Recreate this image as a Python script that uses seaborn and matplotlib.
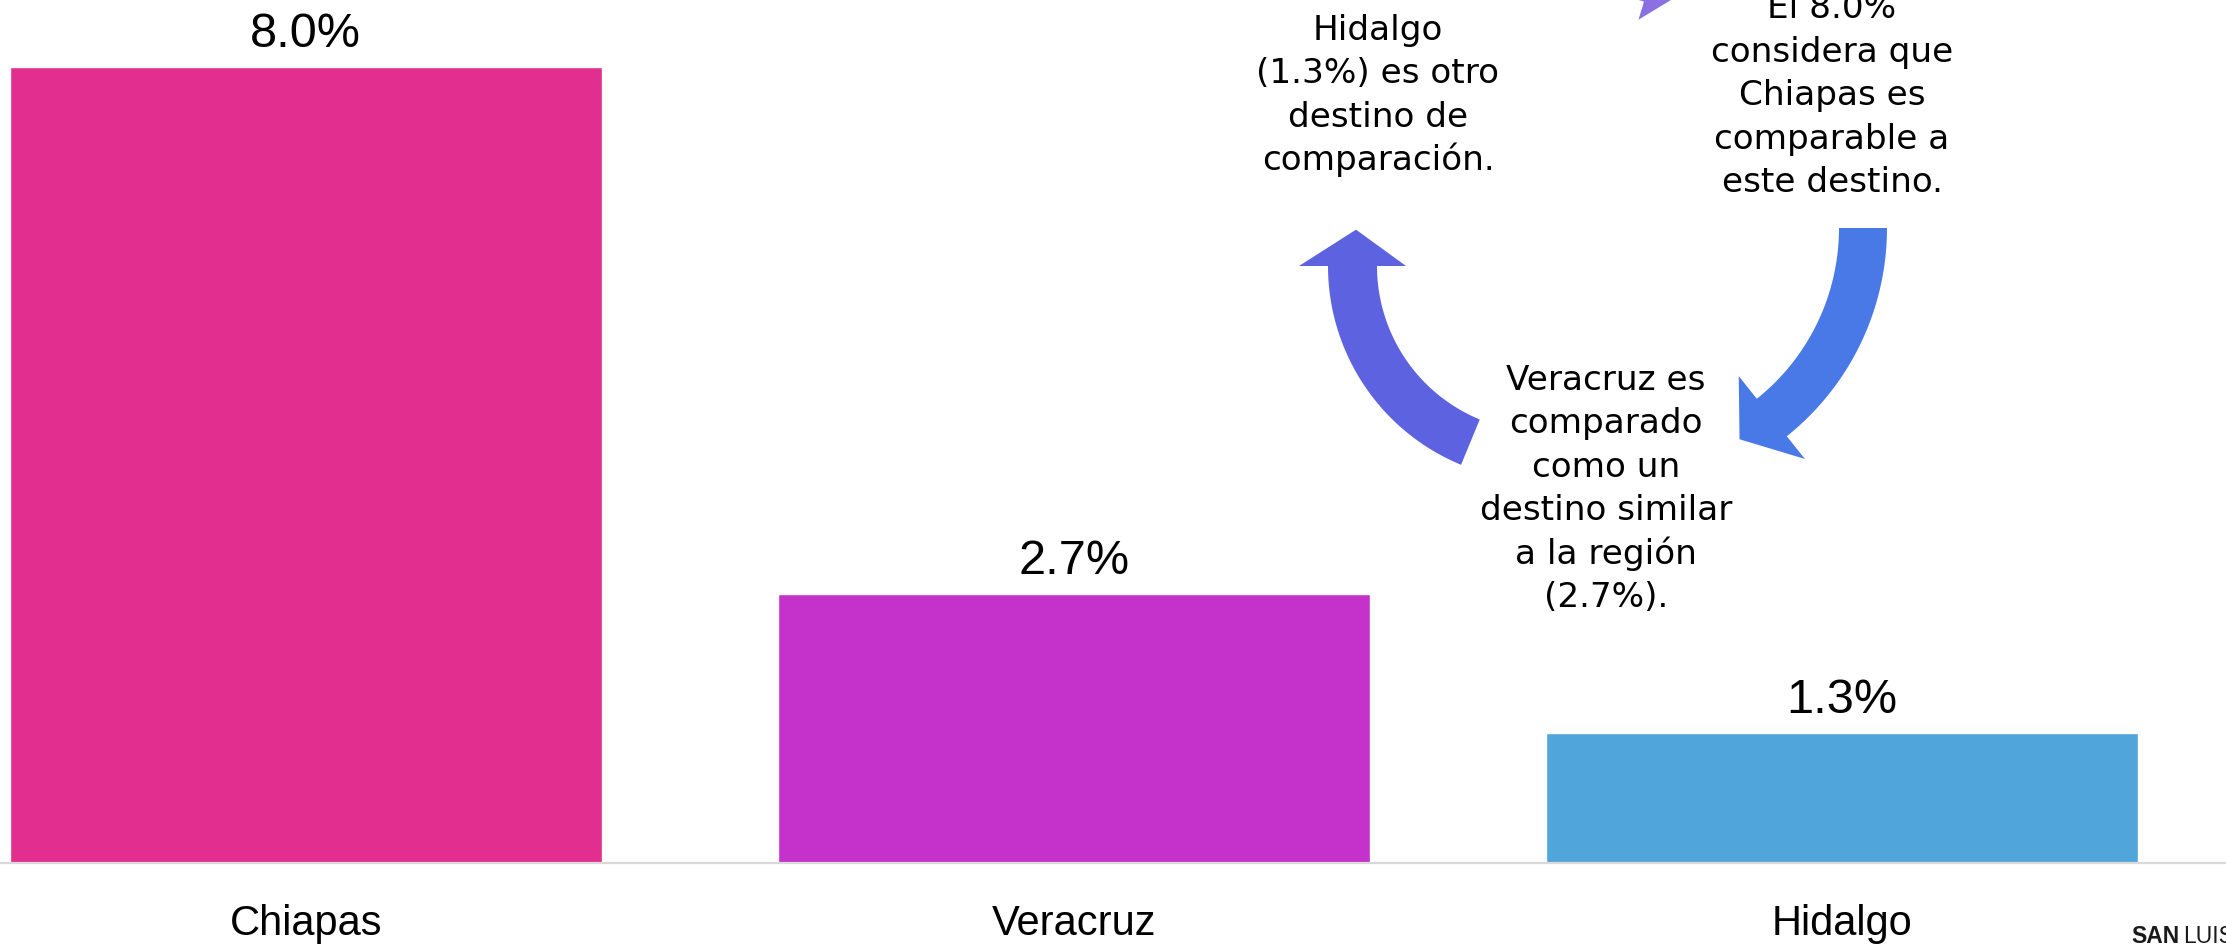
import numpy as np
import pandas as pd
import matplotlib
matplotlib.use("Agg")
import matplotlib.pyplot as plt
from matplotlib.patches import Polygon
import seaborn as sns

# data
states = ["Chiapas", "Veracruz", "Hidalgo"]
shares = [8.0, 2.7, 1.3]
value_labels = ["8.0%", "2.7%", "1.3%"]
bar_colors = ["#E22E8E", "#C532CB", "#50A6DB"]

note_hidalgo = ["Hidalgo", "(1.3%) es otro", "destino de", "comparación."]
note_chiapas = ["El 8.0%", "considera que", "Chiapas es", "comparable a", "este destino."]
note_veracruz = ["Veracruz es", "comparado", "como un", "destino similar", "a la región", "(2.7%)."]

W, H = 2226, 945

sns.set_style("white")
plt.rcParams["font.family"] = ["Liberation Sans", "DejaVu Sans"]

fig = plt.figure(figsize=(W / 100, H / 100), dpi=100)
fig.patch.set_facecolor("white")

# bar chart
ax = fig.add_axes([0, 81.5 / H, 1, 1 - 81.5 / H])
df = pd.DataFrame({"state": states, "share": shares})
sns.barplot(data=df, x="state", y="share", hue="state", palette=bar_colors,
            width=0.771, saturation=1, legend=False, ax=ax)
ax.set_xlim(-0.398, 2.5)
ax.set_ylim(0, 863.5 / 99.4)
for s in ["top", "left", "right"]:
    ax.spines[s].set_visible(False)
ax.spines["bottom"].set_color("#D9D9D9")
ax.spines["bottom"].set_linewidth(1.6)
ax.set_yticks([])
ax.set_xlabel("")
ax.set_ylabel("")
ax.tick_params(axis="x", length=0, pad=29, labelsize=30, labelcolor="black")
ax.patch.set_alpha(0)

for i, (v, lab) in enumerate(zip(shares, value_labels)):
    ax.annotate(lab, (i, v), xytext=(0, 15), textcoords="offset points",
                ha="center", va="baseline", fontsize=35, color="black")

# cycle diagram on a pixel overlay
ov = fig.add_axes([0, 0, 1, 1])
ov.set_xlim(0, W)
ov.set_ylim(H, 0)
ov.axis("off")
ov.patch.set_alpha(0)


def arc_arrow(cx, cy, r, w, a_tail, a_base, a_tip, hw, color):
    ang = np.radians(np.linspace(a_tail, a_base, 60))
    outer = [(cx + (r + w / 2) * np.cos(a), cy - (r + w / 2) * np.sin(a)) for a in ang]
    inner = [(cx + (r - w / 2) * np.cos(a), cy - (r - w / 2) * np.sin(a)) for a in ang[::-1]]
    b, t = np.radians(a_base), np.radians(a_tip)
    head = [(cx + (r + hw) * np.cos(b), cy - (r + hw) * np.sin(b)),
            (cx + r * np.cos(t), cy - r * np.sin(t)),
            (cx + (r - hw) * np.cos(b), cy - (r - hw) * np.sin(b))]
    ov.add_patch(Polygon(outer + head + inner, closed=True, facecolor=color,
                         edgecolor="none", clip_on=True))


arc_arrow(1543, 267, 190.5, 49, 247.6, 180, 169, 53.5, "#5D62E1")
arc_arrow(1620.5, 229, 242.5, 48, 0, -51.4, -60.6, 53, "#4879E6")
arc_arrow(1580, 212, 243, 48, 104.5, 73, 64.5, 43, "#8A70E3")


def note(lines, x, y0, step=43.4):
    for k, line in enumerate(lines):
        ov.text(x, y0 + k * step, line, ha="center", va="baseline",
                fontsize=24.7, family=["DejaVu Sans"], color="black")


note(note_hidalgo, 1378, 40)
note(note_chiapas, 1832, 18.4)
note(note_veracruz, 1606, 390)

ov.text(2131, 943, "SAN", ha="left", va="baseline", fontsize=16.5,
        fontweight="bold", color="#1a1a1a", clip_on=False)
ov.text(2183, 943, "LUIS", ha="left", va="baseline", fontsize=16.5,
        color="#1a1a1a", clip_on=False)

fig.savefig("out.png", dpi=100)
plt.close(fig)
